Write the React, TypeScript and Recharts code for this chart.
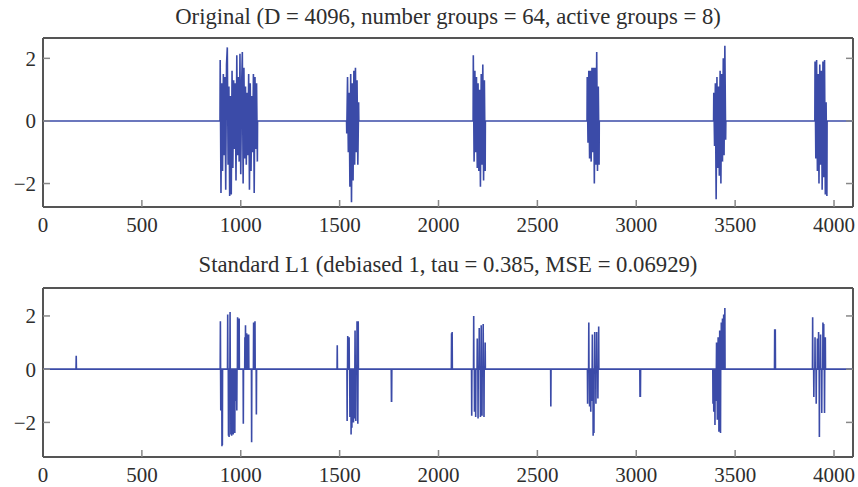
import React from "react";
import { LineChart, Line, XAxis, YAxis } from "recharts";

const D = 4096;
const X_TICKS = [0, 500, 1000, 1500, 2000, 2500, 3000, 3500, 4000];
const Y_TICKS = [-2, 0, 2];

// original signal: active groups of 64 samples, read every 4th sample
const ORIG_STEP = 4;
const ACTIVE_STARTS = [896, 960, 1024, 1536, 2176, 2752, 3392, 3904];
const orig896 = [1.95, -2.3, 1.2, -1.6, 1.5, -1.1, 1.4, -2.2, 1.8, 2.35, -1.4, 1.1, -2.4, 0.8, -2.35, 1.6];
const orig960 = [-1.5, 1.3, -0.9, 1.2, -1.9, 2.1, -1.1, 1.4, -1.3, 2.15, -1.7, 1.0, 2.2, -2.0, 1.7, -1.2];
const orig1024 = [1.1, -1.4, 0.9, -1.1, 1.5, -2.2, 1.2, -1.6, 0.8, -1.0, 1.5, -2.3, 1.4, -0.9, 1.2, -1.3];
const orig1536 = [-0.4, 1.4, -1.0, 0.9, -2.1, 1.5, -2.6, 1.2, -1.9, 1.6, -1.4, 1.7, -1.0, 1.3, -1.4, 0.6];
const orig2176 = [2.1, -1.3, 1.6, -1.0, 1.4, -1.5, 1.2, -1.6, 1.0, -2.1, 1.5, -1.4, 1.8, -1.9, 1.3, -1.6];
const orig2752 = [1.4, -0.7, 1.6, -1.2, 1.6, -1.3, 1.7, -1.0, 1.7, -2.0, 1.7, -1.4, 2.2, -1.6, 1.1, -1.4];
const orig3392 = [0.9, -0.8, 1.2, -2.5, 1.4, -1.5, 1.1, -1.75, 1.6, -2.0, 1.5, -1.3, 2.0, -1.1, 2.4, -0.6];
const orig3904 = [1.9, -1.2, 1.95, -1.6, 1.5, -2.0, 1.8, -1.4, 1.6, -2.2, 1.9, -1.8, 1.95, -2.35, 0.6, -2.4];
const ORIG_GROUPS = [orig896, orig960, orig1024, orig1536, orig2176, orig2752, orig3392, orig3904];

// standard L1 estimate: [sample, value] of the nonzero samples
const l1Single: [number, number][] = [
  [168, 0.5], [1488, 0.9], [1762, -1.2], [1763, -1.2], [2066, 1.35], [2069, 1.4],
  [2568, -1.4], [3019, -1.05], [3021, -1.05], [3700, 1.5], [3703, 1.5],
];
const l1BurstA: [number, number][] = [
  [897, 1.8], [899, -1.55], [905, -2.9], [907, -2.85], [934, 2.05], [938, -2.5], [941, -2.55],
  [946, 2.15], [950, -2.45], [954, -2.5], [958, -2.4], [962, -2.45], [966, -2.3], [970, -2.4],
  [976, -1.2], [980, -1.55], [984, 1.95], [992, 1.9], [1013, -2.05], [1021, 1.2], [1024, 1.65],
  [1030, 1.35], [1036, 1.3], [1040, 1.3], [1055, -2.75], [1065, 1.75], [1072, 1.8], [1079, -1.7],
];
const l1BurstB: [number, number][] = [
  [1538, -1.95], [1541, 1.25], [1548, 1.2], [1552, -1.8], [1558, -2.45], [1562, -2.2], [1566, -1.9],
  [1570, -2.0], [1574, -1.85], [1578, 1.45], [1582, -1.95], [1588, 1.8], [1592, -2.05], [1594, 1.8],
];
const l1BurstC: [number, number][] = [
  [2168, -1.75], [2178, 2.0], [2182, -1.6], [2188, -1.8], [2196, 1.15], [2200, -1.85], [2206, 1.55],
  [2212, -1.8], [2216, 1.65], [2220, -1.75], [2226, 1.7], [2230, -1.8], [2236, 1.0],
];
const l1BurstD: [number, number][] = [
  [2754, -1.3], [2760, 1.75], [2764, -1.4], [2770, -1.6], [2774, -1.2], [2778, 1.3], [2782, -2.5],
  [2786, -2.4], [2790, 1.4], [2796, -1.3], [2800, 1.4], [2806, -1.1], [2810, 1.6],
];
const l1BurstE: [number, number][] = [
  [3388, -1.3], [3392, -1.6], [3398, -2.1], [3402, -1.2], [3406, 1.0], [3410, -1.9], [3414, 1.2],
  [3418, -2.35], [3422, 1.45], [3426, -2.4], [3430, 1.75], [3436, 1.9], [3442, 2.05], [3448, 2.3],
];
const l1BurstF: [number, number][] = [
  [3892, 1.95], [3898, -1.05], [3904, 1.2], [3910, -1.3], [3916, 1.15], [3922, 1.4], [3926, -2.55],
  [3932, 1.3], [3938, -1.65], [3944, 1.75], [3948, 1.7], [3952, -1.65], [3956, 1.2],
];

const BLUE = "#3b4ba8";
const AXIS = "#555";
const TEXT = "#2e2e2e";
const FONT = "'Liberation Serif', 'Times New Roman', serif";

// zeros everywhere except listed samples; gaps wider than maxGap drop back to 0
function toPoints(entries: [number, number][], maxGap: number) {
  const sorted = [...entries].sort((a, b) => a[0] - b[0]);
  const pts = [{ x: 0, y: 0 }];
  let prev = -Infinity;
  for (const [x, y] of sorted) {
    if (x - prev > maxGap) {
      if (prev > -Infinity) pts.push({ x: prev + 1, y: 0 });
      pts.push({ x: x - 1, y: 0 });
    }
    pts.push({ x, y });
    prev = x;
  }
  pts.push({ x: prev + 1, y: 0 });
  pts.push({ x: D - 1, y: 0 });
  return pts;
}

const origEntries: [number, number][] = [];
ACTIVE_STARTS.forEach((start, g) => {
  ORIG_GROUPS[g].forEach((v, i) => origEntries.push([start + i * ORIG_STEP, v]));
});
const origData = toPoints(origEntries, ORIG_STEP);
const l1Data = toPoints(
  [...l1Single, ...l1BurstA, ...l1BurstB, ...l1BurstC, ...l1BurstD, ...l1BurstE, ...l1BurstF],
  1
);

const fmtY = (v: number) => String(v).replace("-", "\u2212");
const blank = () => "";

function Panel({ title, data, domain, top, height, xAxisHeight, titleTop }: any) {
  const tickStyle = { fontSize: 21, fill: TEXT, fontFamily: FONT };
  return (
    <div style={{ position: "absolute", left: 0, top, width: 858, height }}>
      <div
        style={{
          position: "absolute",
          left: 43,
          width: 810,
          top: titleTop,
          textAlign: "center",
          fontSize: 22.7,
          lineHeight: "22px",
          color: TEXT,
          fontFamily: FONT,
          whiteSpace: "nowrap",
        }}
      >
        {title}
      </div>
      <LineChart width={858} height={height} margin={{ top: 37, right: 4, bottom: 0, left: 0 }}>
        <XAxis
          xAxisId="b"
          type="number"
          dataKey="x"
          domain={[0, D]}
          ticks={X_TICKS}
          height={xAxisHeight}
          tickSize={-7}
          tickMargin={17}
          tick={tickStyle}
          axisLine={{ stroke: AXIS, strokeWidth: 2 }}
          tickLine={{ stroke: "#888", strokeWidth: 1.5 }}
          interval={0}
        />
        <XAxis
          xAxisId="t"
          orientation="top"
          type="number"
          domain={[0, D]}
          ticks={X_TICKS}
          height={1}
          tickSize={-7}
          tickFormatter={blank}
          axisLine={{ stroke: AXIS, strokeWidth: 2 }}
          tickLine={{ stroke: "#888", strokeWidth: 1.5 }}
          interval={0}
        />
        <YAxis
          yAxisId="l"
          type="number"
          domain={domain}
          ticks={Y_TICKS}
          width={43}
          tickSize={-7}
          tickMargin={14}
          tick={tickStyle}
          tickFormatter={fmtY}
          axisLine={{ stroke: AXIS, strokeWidth: 2 }}
          tickLine={{ stroke: "#888", strokeWidth: 1.5 }}
          allowDataOverflow
          interval={0}
        />
        <YAxis
          yAxisId="r"
          orientation="right"
          type="number"
          domain={domain}
          ticks={Y_TICKS}
          width={1}
          tickSize={-7}
          tickFormatter={blank}
          axisLine={{ stroke: AXIS, strokeWidth: 2 }}
          tickLine={{ stroke: "#888", strokeWidth: 1.5 }}
          allowDataOverflow
          interval={0}
        />
        <Line
          xAxisId="b"
          yAxisId="l"
          data={data}
          dataKey="y"
          type="linear"
          stroke={BLUE}
          strokeWidth={1.6}
          dot={false}
          activeDot={false}
          isAnimationActive={false}
        />
      </LineChart>
    </div>
  );
}

export default function App() {
  return (
    <div style={{ position: "absolute", left: 0, top: 0, width: 858, height: 487, background: "#fff" }}>
      <Panel
        title="Original (D = 4096, number groups = 64, active groups = 8)"
        data={origData}
        domain={[-2.75, 2.65]}
        top={0}
        height={240}
        xAxisHeight={33}
        titleTop={6}
      />
      <Panel
        title="Standard L1 (debiased 1, tau = 0.385, MSE = 0.06929)"
        data={l1Data}
        domain={[-3.3, 3.05]}
        top={250}
        height={237}
        xAxisHeight={30}
        titleTop={4}
      />
    </div>
  );
}
